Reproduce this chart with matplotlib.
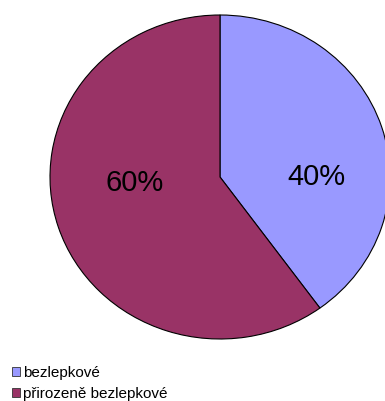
import matplotlib.pyplot as plt
from matplotlib.patches import Patch

plt.rcParams['font.family'] = ['Liberation Sans', 'DejaVu Sans']

labels = ['bezlepkové', 'přirozeně bezlepkové']
values = [40, 60]
colors = ['#9999FF', '#993366']

fig = plt.figure(figsize=(3.85, 4.01), dpi=100)
ax = fig.add_axes([50 / 385, 62 / 401, 340 / 385, 324 / 401])

wedges, texts, autotexts = ax.pie(values, colors=colors, startangle=90, counterclock=False,
                                  autopct='%1.0f%%', radius=1,
                                  wedgeprops=dict(edgecolor='black', linewidth=0.8),
                                  textprops=dict(fontsize=21, color='black'))
for w in wedges:
    w.set_clip_on(False)
ax.set_aspect('auto')
ax.set_xlim(-1, 1)
ax.set_ylim(-1, 1)
ax.axis('off')

# Excel-style label placement
autotexts[0].set_position((0.565, 0.0))
autotexts[1].set_position((-0.5, -0.035))

handles = [Patch(facecolor=c, edgecolor='#333333', linewidth=0.6) for c in colors]
fig.legend(handles, labels, loc='lower left', bbox_to_anchor=(0.007, -0.022),
           frameon=False, fontsize=11, handlelength=0.5, handleheight=0.5,
           handletextpad=0.25, labelspacing=0.45, borderaxespad=0.2)

fig.savefig('out.png', dpi=100)
